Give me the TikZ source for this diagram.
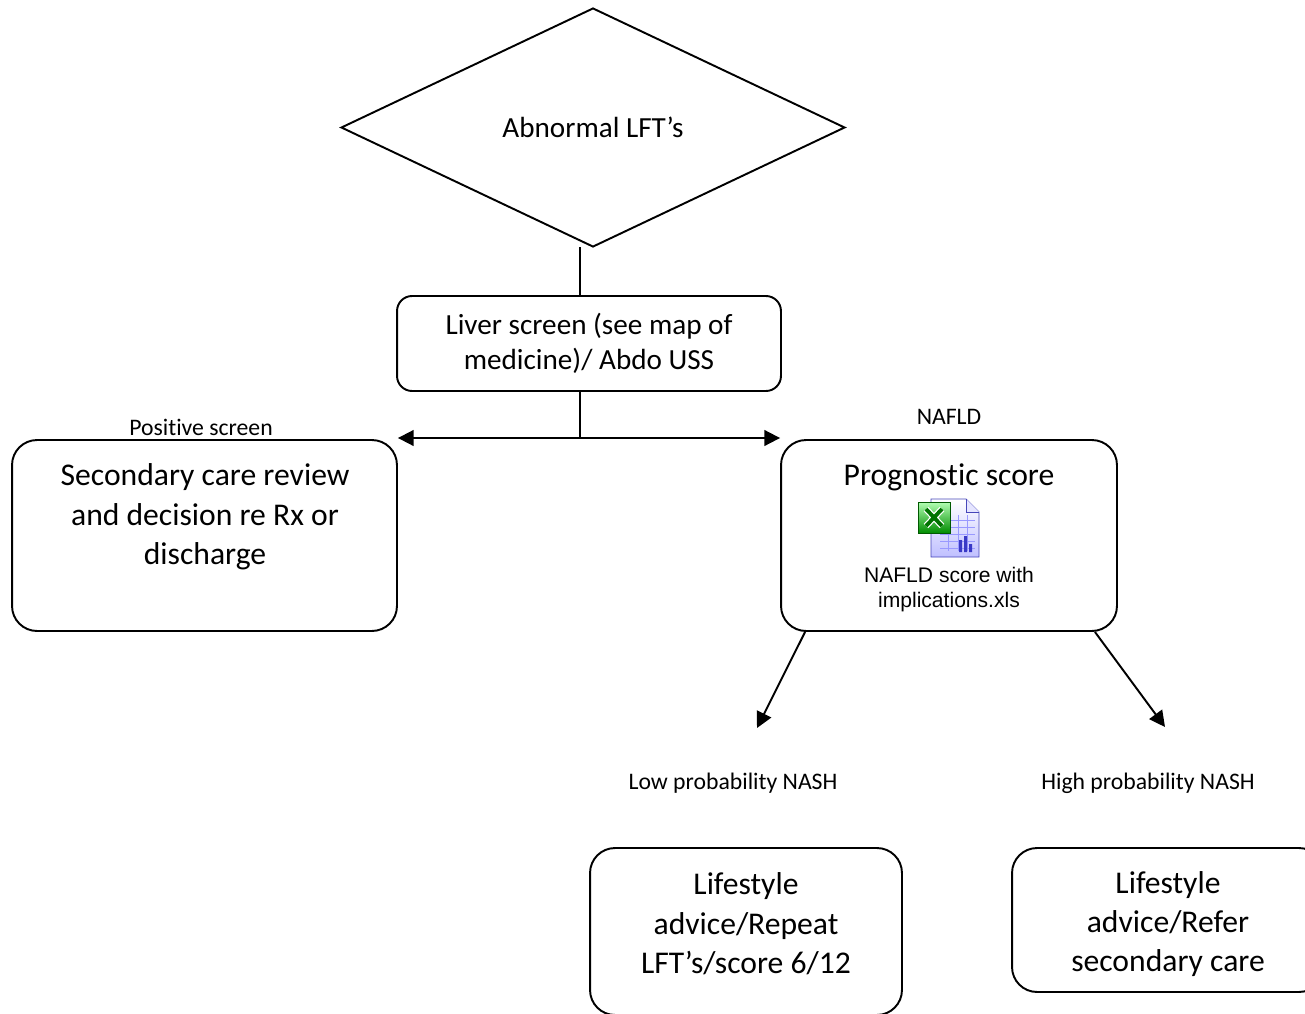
\documentclass[tikz,border=0pt]{standalone}
\usepackage{fontspec}
\setmainfont{Carlito}[Ligatures=NoCommon]
\newfontfamily\iconfont{Liberation Sans}
\usetikzlibrary{shapes.geometric,arrows.meta}

\tikzset{
  box/.style={draw,rounded corners=0.5cm,inner sep=0pt},
  bigtext/.style={align=center,font=\fontsize{18}{22.4}\selectfont},
  midtext/.style={align=center,font=\fontsize{16.6}{20.3}\selectfont},
  smalltext/.style={font=\fontsize{13.5}{16}\selectfont},
  arr/.style={-{Triangle[length=9pt,width=9pt]}}
}

\begin{document}
\begin{tikzpicture}[x=0.02cm,y=-0.02cm,line width=1.1pt]
  \useasboundingbox (0,0) rectangle (1305,1014);
  \clip (0,0) rectangle (1305,1014);

  % decision
  \node[draw,diamond,minimum width=10.08cm,minimum height=4.78cm,inner sep=0pt,midtext] (lft) at (593,127.5) {Abnormal LFT’s};

  % screening
  \node[box,rounded corners=0.3cm,minimum width=7.68cm,minimum height=1.9cm,midtext] (screen) at (589,343.5) {Liver screen (see map of\\medicine)/ Abdo USS};
  \coordinate (top) at (580,247);
  \coordinate (split) at (580,438);
  \draw (top) -- (top |- screen.north);
  \draw (split |- screen.south) -- (split);

  % two outcomes
  \node[box,minimum width=7.7cm,minimum height=3.82cm] (sec) at (204.5,535.5) {};
  \node[bigtext] (sectext) at (205,517) {Secondary care review\\and decision re Rx or\\discharge};
  \node[box,minimum width=6.72cm,minimum height=3.82cm] (prog) at (949,535.5) {};
  \node[bigtext] (progtext) at (949,477) {Prognostic score};
  \draw[arr] (split) -- (split -| sec.east);
  \draw[arr] (split) -- (split -| prog.west);
  \node[smalltext] (pos) at (201,427) {Positive screen};
  \node[smalltext] (nafld) at (949,417) {NAFLD};

  % spreadsheet icon
  \draw[line width=0.5pt,blue!45!gray,top color=white,bottom color=blue!25] (931,499) -- (966,499) -- (979,512) -- (979,557) -- (931,557) -- cycle;
  \draw[line width=0.5pt,blue!45!gray,fill=blue!10] (966,499) -- (966,512) -- (979,512);
  \foreach \y in {520,527,534,541,548}
    \draw[line width=0.5pt,blue!40] (940,\y) -- (975,\y);
  \foreach \x in {948,958,967}
    \draw[line width=0.5pt,blue!40] (\x,515) -- (\x,551);
  \fill[blue!55!gray] (959,552) rectangle (962,540) (964,552) rectangle (967,536) (969,552) rectangle (972,544);
  \draw[line width=0.5pt,green!35!black,top color=green!30!white,bottom color=green!55!black] (918,502) rectangle (950,533);
  \draw[white,line width=3.6pt] (926,509) -- (942,526) (942,509) -- (926,526);
  \draw[green!45!black,line width=2.2pt] (926,509) -- (942,526) (942,509) -- (926,526);
  \node[align=center,font=\iconfont\fontsize{12}{14.2}\selectfont] (xls) at (949,589.5) {NAFLD score with\\implications.xls};

  % NASH probability
  \coordinate (lowtip) at (757,728);
  \coordinate (hightip) at (1165,727);
  \draw[arr] ([xshift=0.5cm]prog.south west) -- (lowtip);
  \draw[arr] ([xshift=-0.46cm]prog.south east) -- (hightip);
  \node[smalltext] (lowp) at (733,783) {Low probability NASH};
  \node[smalltext] (highp) at (1148,783) {High probability NASH};

  % management
  \node[box,minimum width=6.24cm,minimum height=3.34cm] (low) at (746,931.5) {};
  \node[bigtext] (lowtext) at (746,924) {Lifestyle\\advice/Repeat\\LFT’s/score 6/12};
  \node[box,minimum width=6.24cm,minimum height=2.88cm] (high) at (1168,920) {};
  \node[bigtext] (hightext) at (1168,924) {Lifestyle\\advice/Refer\\secondary care};
\end{tikzpicture}
\end{document}
